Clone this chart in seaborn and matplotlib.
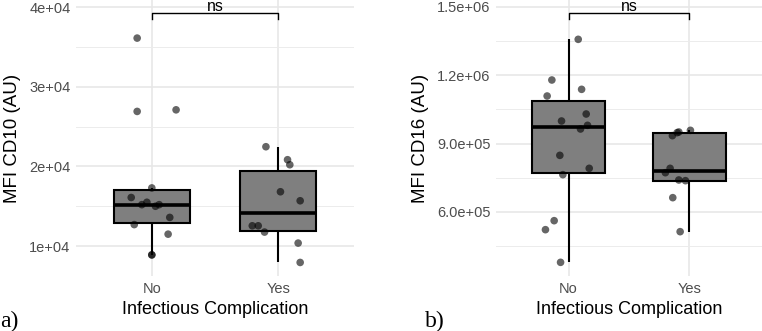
import numpy as np
import pandas as pd
import matplotlib
matplotlib.use("Agg")
import matplotlib.pyplot as plt
import seaborn as sns

# ---- data ----
categories = ["No", "Yes"]

cd10_no = [36100, 26900, 27100, 17300, 16100, 15500, 15200, 15000, 15200, 13600, 12700, 11500, 8900, 8900]
cd10_no_jit = [-0.116, -0.116, 0.192, 0.0, -0.163, -0.039, -0.079, 0.029, 0.058, 0.142, -0.139, 0.129, 0.0, 0.0]
cd10_yes = [22470, 20840, 20210, 16820, 15690, 12550, 12550, 11760, 10380, 7950]
cd10_yes_jit = [-0.097, 0.074, 0.092, 0.018, 0.174, -0.205, -0.158, -0.108, 0.158, 0.174]

cd16_no = [1358000, 1179500, 1138500, 1109200, 1030200, 999500, 980500, 964400, 848700, 791700, 763900, 561900, 522400, 379000]
cd16_no_jit = [0.080, -0.138, 0.108, -0.177, 0.146, -0.058, 0.157, 0.099, -0.072, 0.171, -0.047, -0.119, -0.191, -0.066]
cd16_yes = [958500, 951200, 948300, 935100, 791700, 772600, 740500, 737500, 662900, 513600]
cd16_yes_jit = [0.008, -0.088, -0.102, -0.141, -0.160, -0.199, -0.088, -0.033, -0.138, -0.077]

cd10_ticks = [10000, 20000, 30000, 40000]
cd10_ticklabels = ["1e+04", "2e+04", "3e+04", "4e+04"]
cd16_ticks = [600000, 900000, 1200000, 1500000]
cd16_ticklabels = ["6.0e+05", "9.0e+05", "1.2e+06", "1.5e+06"]

sig_label = "ns"

plt.rcParams['font.family'] = ['Liberation Sans', 'DejaVu Sans']

W, H = 762, 331
fig = plt.figure(figsize=(W / 100, H / 100), dpi=100)


def make_df(no_vals, no_jit, yes_vals, yes_jit):
    return pd.DataFrame({
        "group": [categories[0]] * len(no_vals) + [categories[1]] * len(yes_vals),
        "value": list(no_vals) + list(yes_vals),
        "jit": list(no_jit) + list(yes_jit),
    })


def panel(rect_px, df, ylim, ticks, ticklabels, minor, ylabel, bracket_y, tip_y, text_y, letter, letter_x):
    l, r, t, b = rect_px
    ax = fig.add_axes([l / W, 1 - b / H, (r - l) / W, (b - t) / H])
    sns.boxplot(data=df, x="group", y="value", order=categories, ax=ax, width=0.6,
                color="#7f7f7f", saturation=1, showfliers=False, showcaps=False, whis=1.5,
                linecolor="black", linewidth=1.5,
                medianprops=dict(color="black", linewidth=2.6),
                boxprops=dict(facecolor="#7f7f7f", edgecolor="black"),
                zorder=2)
    pos = df["group"].map({c: i for i, c in enumerate(categories)}) + df["jit"]
    ax.scatter(pos, df["value"], s=30, color="black", alpha=0.6, edgecolor="none", zorder=4)
    ax.set_xlim(-0.6, 1.6)
    ax.set_ylim(*ylim)
    ax.set_yticks(ticks)
    ax.set_yticklabels(ticklabels)
    ax.set_yticks(minor, minor=True)
    ax.grid(True, which="major", color="#e6e6e6", linewidth=1.1, zorder=0)
    ax.grid(True, which="minor", axis="y", color="#ececec", linewidth=0.7, zorder=0)
    ax.set_axisbelow(True)
    for s in ax.spines.values():
        s.set_visible(False)
    ax.tick_params(which="both", length=0, labelsize=10.5, labelcolor="#4d4d4d", pad=4)
    ax.set_xlabel("Infectious Complication", fontsize=13, labelpad=4)
    ax.set_ylabel(ylabel, fontsize=13.5, labelpad=6)
    ax.set_facecolor("white")
    # significance bracket
    ax.plot([0, 0, 1, 1], [tip_y, bracket_y, bracket_y, tip_y], color="black", linewidth=1.0,
            clip_on=False, zorder=5)
    ax.text(0.5, text_y, sig_label, ha="center", va="baseline", fontsize=11.5, clip_on=False)
    fig.text(letter_x / W, 1 - 327 / H, letter, fontsize=17,
             family=["Liberation Serif", "DejaVu Serif"], ha="left", va="baseline")
    return ax


df_a = make_df(cd10_no, cd10_no_jit, cd10_yes, cd10_yes_jit)
df_b = make_df(cd16_no, cd16_no_jit, cd16_yes, cd16_yes_jit)

panel((76, 354, 0, 276), df_a, (6250, 40880), cd10_ticks, cd10_ticklabels,
      [15000, 25000, 35000], "MFI CD10 (AU)", 39250, 38460, 39560, "a)", 0)
panel((496, 762, 0, 276), df_b, (319000, 1530700), cd16_ticks, cd16_ticklabels,
      [450000, 750000, 1050000, 1350000], "MFI CD16 (AU)", 1473700, 1446000, 1482000, "b)", 425)

fig.savefig("out.png", dpi=100)
